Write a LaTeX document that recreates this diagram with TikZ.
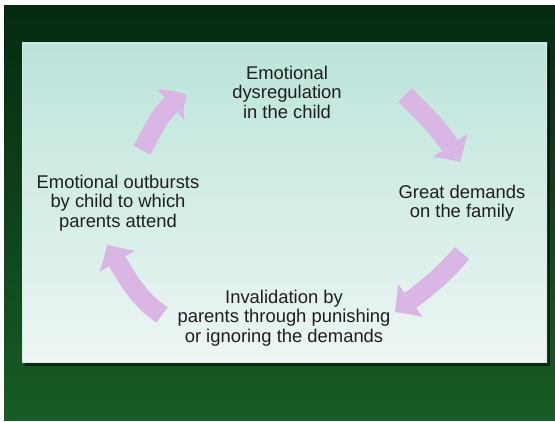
\documentclass[tikz,border=0pt]{standalone}
\usepackage{fontspec}
\setmainfont{Liberation Sans}
\usetikzlibrary{arrows.meta,bending}
\definecolor{bgtop}{RGB}{5,42,16}
\definecolor{bgbot}{RGB}{24,92,38}
\definecolor{paneltop}{RGB}{187,228,218}
\definecolor{panelbot}{RGB}{238,246,244}
\definecolor{paneledge}{RGB}{215,238,232}
\definecolor{lav}{RGB}{217,182,227}
\definecolor{txt}{RGB}{30,30,30}
\begin{document}
\begin{tikzpicture}[x=1pt,y=1pt,
  txtnode/.style={font=\fontsize{18.4pt}{19.5pt}\selectfont, align=center, text=txt, inner sep=0pt},
  cyc/.style={draw=lav, line width=19pt, -{Triangle[width=41pt,length=20pt,line width=0pt,bend]}}]
\useasboundingbox (0,0) rectangle (555,422);
\shade[top color=bgtop, bottom color=bgbot] (4,1) rectangle (555,416);
\fill[black,opacity=.55] (25,56) rectangle (550,376);
\shade[top color=paneltop,bottom color=panelbot] (22,59) rectangle (547,379);
\draw[paneledge,line width=1pt] (22.5,59.5) rectangle (546.5,378.5);
\node[txtnode] (top) at (287,330) {Emotional\\dysregulation\\in the child};
\node[txtnode] (right) at (462,219) {Great demands\\on the family};
\node[txtnode] (bottom) at (284,104) {Invalidation by\\parents through punishing\\or ignoring the demands};
\node[txtnode] (left) at (118,219) {Emotional outbursts\\by child to which\\parents attend};
\coordinate (a1s) at (142,272); \coordinate (a1e) at (187,327);
\coordinate (a2s) at (405,327); \coordinate (a2e) at (460,260);
\coordinate (a3s) at (462,169); \coordinate (a3e) at (395,110);
\coordinate (a4s) at (162,107); \coordinate (a4e) at (107,177);
\draw[cyc] (a1s) to[out=60,in=203] (a1e);
\draw[cyc] (a2s) to[out=-45,in=119] (a2e);
\draw[cyc] (a3s) to[out=230,in=37] (a3e);
\draw[cyc] (a4s) to[out=145,in=303] (a4e);
\end{tikzpicture}
\end{document}
